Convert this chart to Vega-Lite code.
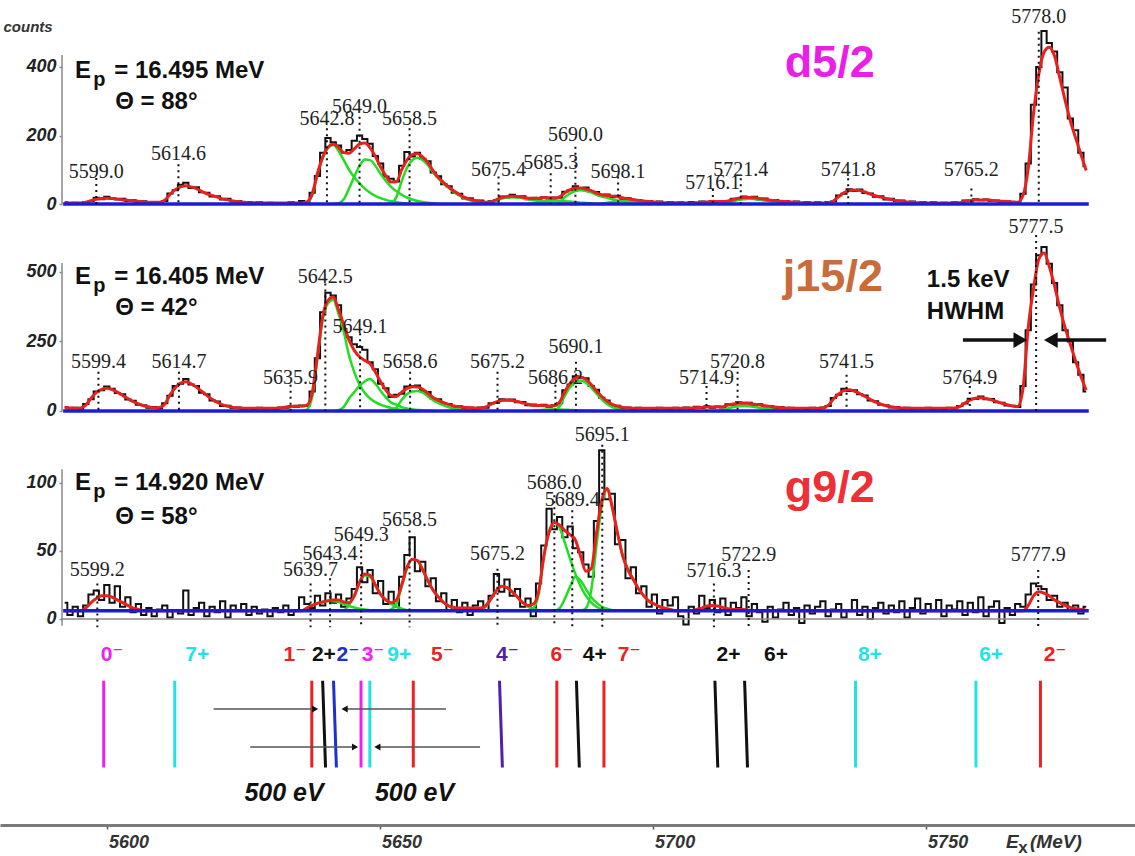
{
"$schema":"https://vega.github.io/schema/vega-lite/v6.json",
"background":"white",
"padding":0,
"spacing":0,
"bounds":"flush",
"config":{"view":{"stroke":null},"axis":{"grid":false},"font":"Liberation Sans"},
"resolve":{"scale":{"x":"independent","y":"independent"}},
"datasets":{
"spec":[
{"e":5593,"b1":5,"r1":4,"b2":14,"r2":12,"b3":12,"r3":6},
{"e":5594,"b1":2,"r1":3,"b2":9,"r2":11,"b3":3,"r3":6},
{"e":5595,"b1":4,"r1":3,"b2":12,"r2":10,"b3":9,"r3":6},
{"e":5596,"b1":1,"r1":3,"b2":8,"r2":11,"b3":2,"r3":6},
{"e":5597,"b1":6,"r1":5,"b2":25,"r2":21,"b3":10,"r3":8},
{"e":5598,"b1":8,"r1":10,"b2":42,"r2":46,"b3":18,"r3":12},
{"e":5599,"b1":18,"r1":14,"b2":70,"r2":66,"b3":21,"r3":15},
{"e":5600,"b1":14,"r1":16,"b2":75,"r2":78,"b3":14,"r3":17},
{"e":5601,"b1":21,"r1":17,"b2":88,"r2":82,"b3":25,"r3":17},
{"e":5602,"b1":17,"r1":16,"b2":80,"r2":77,"b3":12,"r3":16},
{"e":5603,"b1":13,"r1":15,"b2":65,"r2":68,"b3":24,"r3":14},
{"e":5604,"b1":15,"r1":12,"b2":60,"r2":56,"b3":9,"r3":12},
{"e":5605,"b1":9,"r1":11,"b2":41,"r2":45,"b3":16,"r3":10},
{"e":5606,"b1":11,"r1":9,"b2":37,"r2":34,"b3":5,"r3":8},
{"e":5607,"b1":6,"r1":8,"b2":22,"r2":26,"b3":11,"r3":7},
{"e":5608,"b1":8,"r1":6,"b2":21,"r2":19,"b3":3,"r3":6},
{"e":5609,"b1":3,"r1":5,"b2":12,"r2":15,"b3":8,"r3":6},
{"e":5610,"b1":6,"r1":5,"b2":14,"r2":12,"b3":2,"r3":6},
{"e":5611,"b1":4,"r1":5,"b2":9,"r2":13,"b3":7,"r3":6},
{"e":5612,"b1":9,"r1":11,"b2":28,"r2":24,"b3":10,"r3":6},
{"e":5613,"b1":31,"r1":28,"b2":55,"r2":58,"b3":1,"r3":6},
{"e":5614,"b1":40,"r1":42,"b2":90,"r2":84,"b3":6,"r3":6},
{"e":5615,"b1":56,"r1":50,"b2":98,"r2":100,"b3":4,"r3":6},
{"e":5616,"b1":62,"r1":53,"b2":115,"r2":105,"b3":21,"r3":6},
{"e":5617,"b1":47,"r1":50,"b2":95,"r2":98,"b3":3,"r3":6},
{"e":5618,"b1":49,"r1":45,"b2":90,"r2":86,"b3":8,"r3":6},
{"e":5619,"b1":34,"r1":37,"b2":66,"r2":71,"b3":12,"r3":6},
{"e":5620,"b1":33,"r1":30,"b2":60,"r2":56,"b3":2,"r3":6},
{"e":5621,"b1":22,"r1":25,"b2":38,"r2":42,"b3":9,"r3":6},
{"e":5622,"b1":23,"r1":20,"b2":34,"r2":31,"b3":5,"r3":6},
{"e":5623,"b1":13,"r1":15,"b2":18,"r2":22,"b3":13,"r3":6},
{"e":5624,"b1":15,"r1":12,"b2":19,"r2":17,"b3":1,"r3":6},
{"e":5625,"b1":7,"r1":9,"b2":11,"r2":13,"b3":10,"r3":6},
{"e":5626,"b1":9,"r1":7,"b2":13,"r2":11,"b3":6,"r3":6},
{"e":5627,"b1":4,"r1":5,"b2":8,"r2":10,"b3":11,"r3":6},
{"e":5628,"b1":6,"r1":4,"b2":11,"r2":10,"b3":3,"r3":6},
{"e":5629,"b1":2,"r1":4,"b2":7,"r2":10,"b3":9,"r3":6},
{"e":5630,"b1":5,"r1":3,"b2":12,"r2":10,"b3":4,"r3":6},
{"e":5631,"b1":1,"r1":3,"b2":9,"r2":10,"b3":7,"r3":6},
{"e":5632,"b1":4,"r1":3,"b2":11,"r2":10,"b3":2,"r3":6},
{"e":5633,"b1":2,"r1":3,"b2":8,"r2":10,"b3":8,"r3":6},
{"e":5634,"b1":3,"r1":3,"b2":13,"r2":11,"b3":5,"r3":6},
{"e":5635,"b1":1,"r1":3,"b2":12,"r2":14,"b3":10,"r3":6},
{"e":5636,"b1":5,"r1":3,"b2":18,"r2":16,"b3":3,"r3":6},
{"e":5637,"b1":2,"r1":3,"b2":15,"r2":18,"b3":6,"r3":6},
{"e":5638,"b1":9,"r1":3,"b2":20,"r2":17,"b3":16,"r3":6},
{"e":5639,"b1":4,"r1":6,"b2":18,"r2":21,"b3":11,"r3":8},
{"e":5640,"b1":33,"r1":29,"b2":70,"r2":64,"b3":8,"r3":10},
{"e":5641,"b1":82,"r1":89,"b2":190,"r2":200,"b3":17,"r3":11.5},
{"e":5642,"b1":150,"r1":137,"b2":355,"r2":340,"b3":10,"r3":12.5},
{"e":5643,"b1":193,"r1":166,"b2":425,"r2":398,"b3":19,"r3":13.5},
{"e":5644,"b1":180,"r1":175,"b2":415,"r2":410,"b3":12,"r3":14},
{"e":5645,"b1":171,"r1":165,"b2":380,"r2":365,"b3":18,"r3":14},
{"e":5646,"b1":150,"r1":150,"b2":295,"r2":310,"b3":9,"r3":12.5},
{"e":5647,"b1":158,"r1":148,"b2":265,"r2":255,"b3":15,"r3":12},
{"e":5648,"b1":185,"r1":161,"b2":240,"r2":218,"b3":22,"r3":17},
{"e":5649,"b1":200,"r1":175,"b2":230,"r2":195,"b3":38,"r3":27},
{"e":5650,"b1":190,"r1":178,"b2":220,"r2":182,"b3":27,"r3":33},
{"e":5651,"b1":176,"r1":164,"b2":175,"r2":170,"b3":36,"r3":32},
{"e":5652,"b1":140,"r1":139,"b2":150,"r2":140,"b3":19,"r3":25},
{"e":5653,"b1":118,"r1":108,"b2":98,"r2":105,"b3":28,"r3":18},
{"e":5654,"b1":80,"r1":82,"b2":82,"r2":75,"b3":11,"r3":14},
{"e":5655,"b1":74,"r1":64,"b2":50,"r2":55,"b3":20,"r3":12},
{"e":5656,"b1":66,"r1":65,"b2":58,"r2":52,"b3":9,"r3":14},
{"e":5657,"b1":112,"r1":100,"b2":62,"r2":68,"b3":31,"r3":25},
{"e":5658,"b1":152,"r1":128,"b2":88,"r2":81,"b3":47,"r3":38},
{"e":5659,"b1":139,"r1":144,"b2":90,"r2":87,"b3":60,"r3":44},
{"e":5660,"b1":150,"r1":147,"b2":92,"r2":86,"b3":35,"r3":43},
{"e":5661,"b1":132,"r1":137,"b2":72,"r2":78,"b3":42,"r3":36},
{"e":5662,"b1":125,"r1":120,"b2":68,"r2":63,"b3":24,"r3":28},
{"e":5663,"b1":92,"r1":97,"b2":44,"r2":48,"b3":30,"r3":21},
{"e":5664,"b1":81,"r1":77,"b2":42,"r2":38,"b3":13,"r3":16},
{"e":5665,"b1":58,"r1":62,"b2":27,"r2":30,"b3":19,"r3":12},
{"e":5666,"b1":52,"r1":49,"b2":25,"r2":23,"b3":6,"r3":9.5},
{"e":5667,"b1":33,"r1":37,"b2":15,"r2":18,"b3":14,"r3":8.5},
{"e":5668,"b1":30,"r1":27,"b2":17,"r2":15,"b3":5,"r3":8},
{"e":5669,"b1":16,"r1":19,"b2":11,"r2":13,"b3":12,"r3":8},
{"e":5670,"b1":17,"r1":14,"b2":13,"r2":11,"b3":3,"r3":8},
{"e":5671,"b1":8,"r1":10,"b2":9,"r2":11,"b3":10,"r3":8},
{"e":5672,"b1":10,"r1":7,"b2":13,"r2":11,"b3":13,"r3":8},
{"e":5673,"b1":3,"r1":5,"b2":12,"r2":15,"b3":6,"r3":10},
{"e":5674,"b1":8,"r1":6,"b2":28,"r2":25,"b3":17,"r3":15},
{"e":5675,"b1":11,"r1":13,"b2":30,"r2":33,"b3":33,"r3":21},
{"e":5676,"b1":22,"r1":19,"b2":42,"r2":38,"b3":20,"r3":24},
{"e":5677,"b1":19,"r1":22,"b2":38,"r2":40,"b3":29,"r3":23},
{"e":5678,"b1":27,"r1":23,"b2":41,"r2":38,"b3":17,"r3":20},
{"e":5679,"b1":20,"r1":22,"b2":31,"r2":34,"b3":22,"r3":16},
{"e":5680,"b1":23,"r1":20,"b2":32,"r2":29,"b3":9,"r3":12},
{"e":5681,"b1":14,"r1":17,"b2":21,"r2":24,"b3":15,"r3":10},
{"e":5682,"b1":18,"r1":16,"b2":23,"r2":20,"b3":2,"r3":11},
{"e":5683,"b1":15,"r1":17,"b2":18,"r2":20,"b3":26,"r3":20},
{"e":5684,"b1":20,"r1":18,"b2":22,"r2":19,"b3":54,"r3":46},
{"e":5685,"b1":16,"r1":18,"b2":15,"r2":18,"b3":81,"r3":64},
{"e":5686,"b1":19,"r1":17,"b2":21,"r2":19,"b3":66,"r3":71},
{"e":5687,"b1":18,"r1":21,"b2":28,"r2":32,"b3":75,"r3":69},
{"e":5688,"b1":36,"r1":33,"b2":75,"r2":70,"b3":60,"r3":65},
{"e":5689,"b1":40,"r1":42,"b2":95,"r2":100,"b3":68,"r3":62},
{"e":5690,"b1":52,"r1":47,"b2":125,"r2":118,"b3":52,"r3":58},
{"e":5691,"b1":45,"r1":47,"b2":120,"r2":122,"b3":49,"r3":46},
{"e":5692,"b1":48,"r1":44,"b2":118,"r2":113,"b3":40,"r3":35},
{"e":5693,"b1":36,"r1":39,"b2":90,"r2":95,"b3":31,"r3":37},
{"e":5694,"b1":35,"r1":32,"b2":76,"r2":72,"b3":72,"r3":63},
{"e":5695,"b1":24,"r1":27,"b2":48,"r2":52,"b3":124,"r3":87},
{"e":5696,"b1":28,"r1":25,"b2":38,"r2":35,"b3":88,"r3":96},
{"e":5697,"b1":20,"r1":23,"b2":21,"r2":24,"b3":92,"r3":82},
{"e":5698,"b1":24,"r1":21,"b2":19,"r2":17,"b3":55,"r3":63},
{"e":5699,"b1":15,"r1":18,"b2":11,"r2":13,"b3":58,"r3":46},
{"e":5700,"b1":17,"r1":15,"b2":13,"r2":11,"b3":30,"r3":36},
{"e":5701,"b1":10,"r1":13,"b2":8,"r2":10,"b3":38,"r3":29},
{"e":5702,"b1":12,"r1":10,"b2":12,"r2":10,"b3":19,"r3":22},
{"e":5703,"b1":7,"r1":9,"b2":9,"r2":10,"b3":24,"r3":17},
{"e":5704,"b1":9,"r1":7,"b2":11,"r2":10,"b3":9,"r3":13},
{"e":5705,"b1":4,"r1":6,"b2":7,"r2":10,"b3":18,"r3":11},
{"e":5706,"b1":7,"r1":5,"b2":12,"r2":10,"b3":4,"r3":9},
{"e":5707,"b1":2,"r1":4,"b2":10,"r2":10,"b3":14,"r3":8},
{"e":5708,"b1":6,"r1":4,"b2":8,"r2":10,"b3":10,"r3":7},
{"e":5709,"b1":3,"r1":4,"b2":12,"r2":10,"b3":16,"r3":6},
{"e":5710,"b1":5,"r1":3,"b2":9,"r2":10,"b3":2,"r3":6},
{"e":5711,"b1":1,"r1":3,"b2":13,"r2":10,"b3":-4,"r3":6},
{"e":5712,"b1":6,"r1":3,"b2":8,"r2":11,"b3":9,"r3":6},
{"e":5713,"b1":2,"r1":4,"b2":15,"r2":12,"b3":4,"r3":7},
{"e":5714,"b1":7,"r1":5,"b2":11,"r2":13,"b3":17,"r3":8},
{"e":5715,"b1":4,"r1":6,"b2":17,"r2":14,"b3":8,"r3":9.5},
{"e":5716,"b1":9,"r1":7,"b2":12,"r2":14,"b3":14,"r3":10},
{"e":5717,"b1":5,"r1":7,"b2":16,"r2":14,"b3":5,"r3":9.5},
{"e":5718,"b1":8,"r1":7,"b2":13,"r2":15,"b3":15,"r3":8.5},
{"e":5719,"b1":7,"r1":9,"b2":24,"r2":21,"b3":3,"r3":7.5},
{"e":5720,"b1":15,"r1":13,"b2":22,"r2":25,"b3":12,"r3":7},
{"e":5721,"b1":14,"r1":17,"b2":31,"r2":28,"b3":8,"r3":7},
{"e":5722,"b1":22,"r1":19,"b2":27,"r2":29,"b3":16,"r3":7},
{"e":5723,"b1":17,"r1":19,"b2":30,"r2":27,"b3":2,"r3":6.5},
{"e":5724,"b1":21,"r1":18,"b2":21,"r2":24,"b3":11,"r3":6},
{"e":5725,"b1":13,"r1":16,"b2":24,"r2":22,"b3":5,"r3":6},
{"e":5726,"b1":16,"r1":14,"b2":16,"r2":19,"b3":-2,"r3":6},
{"e":5727,"b1":9,"r1":11,"b2":18,"r2":16,"b3":9,"r3":6},
{"e":5728,"b1":12,"r1":10,"b2":11,"r2":14,"b3":1,"r3":6},
{"e":5729,"b1":6,"r1":8,"b2":14,"r2":12,"b3":7,"r3":6},
{"e":5730,"b1":9,"r1":7,"b2":9,"r2":11,"b3":12,"r3":6},
{"e":5731,"b1":4,"r1":6,"b2":12,"r2":10,"b3":3,"r3":6},
{"e":5732,"b1":7,"r1":5,"b2":8,"r2":10,"b3":8,"r3":6},
{"e":5733,"b1":2,"r1":4,"b2":11,"r2":10,"b3":-3,"r3":6},
{"e":5734,"b1":6,"r1":4,"b2":7,"r2":10,"b3":10,"r3":6},
{"e":5735,"b1":1,"r1":3,"b2":12,"r2":10,"b3":4,"r3":6},
{"e":5736,"b1":5,"r1":3,"b2":9,"r2":10,"b3":9,"r3":6},
{"e":5737,"b1":2,"r1":3,"b2":13,"r2":11,"b3":13,"r3":6},
{"e":5738,"b1":6,"r1":4,"b2":18,"r2":20,"b3":2,"r3":6},
{"e":5739,"b1":7,"r1":9,"b2":47,"r2":43,"b3":7,"r3":6},
{"e":5740,"b1":25,"r1":22,"b2":58,"r2":61,"b3":11,"r3":6},
{"e":5741,"b1":30,"r1":33,"b2":80,"r2":73,"b3":1,"r3":6},
{"e":5742,"b1":43,"r1":39,"b2":72,"r2":76,"b3":6,"r3":6},
{"e":5743,"b1":38,"r1":41,"b2":75,"r2":71,"b3":14,"r3":6},
{"e":5744,"b1":42,"r1":39,"b2":60,"r2":63,"b3":3,"r3":6},
{"e":5745,"b1":32,"r1":35,"b2":56,"r2":52,"b3":9,"r3":6},
{"e":5746,"b1":31,"r1":29,"b2":38,"r2":42,"b3":0,"r3":6},
{"e":5747,"b1":21,"r1":24,"b2":35,"r2":32,"b3":8,"r3":6},
{"e":5748,"b1":23,"r1":20,"b2":22,"r2":25,"b3":12,"r3":6},
{"e":5749,"b1":13,"r1":16,"b2":21,"r2":19,"b3":4,"r3":6},
{"e":5750,"b1":15,"r1":13,"b2":13,"r2":15,"b3":10,"r3":6},
{"e":5751,"b1":8,"r1":10,"b2":14,"r2":12,"b3":5,"r3":6},
{"e":5752,"b1":10,"r1":8,"b2":9,"r2":11,"b3":13,"r3":6},
{"e":5753,"b1":4,"r1":6,"b2":12,"r2":10,"b3":1,"r3":6},
{"e":5754,"b1":7,"r1":5,"b2":8,"r2":10,"b3":8,"r3":6},
{"e":5755,"b1":2,"r1":4,"b2":11,"r2":10,"b3":15,"r3":6},
{"e":5756,"b1":6,"r1":4,"b2":9,"r2":10,"b3":4,"r3":6},
{"e":5757,"b1":1,"r1":3,"b2":12,"r2":10,"b3":11,"r3":6},
{"e":5758,"b1":5,"r1":3,"b2":8,"r2":10,"b3":6,"r3":6},
{"e":5759,"b1":2,"r1":3,"b2":10,"r2":10,"b3":14,"r3":6},
{"e":5760,"b1":4,"r1":3,"b2":7,"r2":10,"b3":2,"r3":6},
{"e":5761,"b1":1,"r1":3,"b2":12,"r2":10,"b3":10,"r3":6},
{"e":5762,"b1":5,"r1":3,"b2":9,"r2":11,"b3":7,"r3":6},
{"e":5763,"b1":3,"r1":4,"b2":18,"r2":16,"b3":13,"r3":6},
{"e":5764,"b1":10,"r1":8,"b2":27,"r2":29,"b3":3,"r3":6},
{"e":5765,"b1":8,"r1":10,"b2":44,"r2":40,"b3":12,"r3":6},
{"e":5766,"b1":14,"r1":12,"b2":43,"r2":46,"b3":5,"r3":6},
{"e":5767,"b1":11,"r1":12,"b2":52,"r2":48,"b3":16,"r3":6},
{"e":5768,"b1":13,"r1":12,"b2":42,"r2":45,"b3":2,"r3":6},
{"e":5769,"b1":9,"r1":11,"b2":43,"r2":40,"b3":9,"r3":6},
{"e":5770,"b1":10,"r1":9,"b2":31,"r2":34,"b3":13,"r3":6},
{"e":5771,"b1":6,"r1":8,"b2":30,"r2":28,"b3":-3,"r3":6},
{"e":5772,"b1":8,"r1":7,"b2":20,"r2":23,"b3":8,"r3":6},
{"e":5773,"b1":4,"r1":6,"b2":19,"r2":18,"b3":3,"r3":6},
{"e":5774,"b1":6,"r1":5,"b2":14,"r2":16,"b3":11,"r3":6},
{"e":5775,"b1":30,"r1":25,"b2":90,"r2":80,"b3":9,"r3":6},
{"e":5776,"b1":118,"r1":104,"b2":290,"r2":300,"b3":18,"r3":10},
{"e":5777,"b1":290,"r1":264,"b2":455,"r2":440,"b3":26,"r3":17},
{"e":5778,"b1":400,"r1":378,"b2":560,"r2":545,"b3":24,"r3":20},
{"e":5779,"b1":505,"r1":443,"b2":590,"r2":568,"b3":22,"r3":19},
{"e":5780,"b1":470,"r1":458,"b2":530,"r2":520,"b3":14,"r3":17},
{"e":5781,"b1":445,"r1":432,"b2":460,"r2":450,"b3":17,"r3":14},
{"e":5782,"b1":385,"r1":368,"b2":380,"r2":370,"b3":9,"r3":12},
{"e":5783,"b1":340,"r1":303,"b2":290,"r2":300,"b3":12,"r3":10},
{"e":5784,"b1":250,"r1":243,"b2":250,"r2":240,"b3":6,"r3":8.5},
{"e":5785,"b1":215,"r1":193,"b2":175,"r2":180,"b3":10,"r3":7.5},
{"e":5786,"b1":150,"r1":145,"b2":130,"r2":125,"b3":4,"r3":7},
{"e":5787,"b1":110,"r1":98,"b2":70,"r2":75,"b3":9,"r3":6.5}
],
"comp":[
{"p":1,"k":"a","e":5638,"g":0},{"p":1,"k":"a","e":5639,"g":3},{"p":1,"k":"a","e":5640,"g":26},{"p":1,"k":"a","e":5641,"g":86},{"p":1,"k":"a","e":5642,"g":134},{"p":1,"k":"a","e":5643,"g":163},{"p":1,"k":"a","e":5644,"g":172},{"p":1,"k":"a","e":5645,"g":155},{"p":1,"k":"a","e":5646,"g":128},{"p":1,"k":"a","e":5647,"g":100},{"p":1,"k":"a","e":5648,"g":78},{"p":1,"k":"a","e":5649,"g":60},{"p":1,"k":"a","e":5650,"g":45},{"p":1,"k":"a","e":5651,"g":33},{"p":1,"k":"a","e":5652,"g":24},{"p":1,"k":"a","e":5653,"g":17},{"p":1,"k":"a","e":5654,"g":12},{"p":1,"k":"a","e":5655,"g":8},{"p":1,"k":"a","e":5656,"g":5},{"p":1,"k":"a","e":5657,"g":3},{"p":1,"k":"a","e":5658,"g":1.5},{"p":1,"k":"a","e":5659,"g":0},
{"p":1,"k":"b","e":5644,"g":0},{"p":1,"k":"b","e":5645,"g":2},{"p":1,"k":"b","e":5646,"g":14},{"p":1,"k":"b","e":5647,"g":45},{"p":1,"k":"b","e":5648,"g":80},{"p":1,"k":"b","e":5649,"g":112},{"p":1,"k":"b","e":5650,"g":130},{"p":1,"k":"b","e":5651,"g":128},{"p":1,"k":"b","e":5652,"g":112},{"p":1,"k":"b","e":5653,"g":88},{"p":1,"k":"b","e":5654,"g":67},{"p":1,"k":"b","e":5655,"g":50},{"p":1,"k":"b","e":5656,"g":37},{"p":1,"k":"b","e":5657,"g":27},{"p":1,"k":"b","e":5658,"g":19},{"p":1,"k":"b","e":5659,"g":13},{"p":1,"k":"b","e":5660,"g":9},{"p":1,"k":"b","e":5661,"g":6},{"p":1,"k":"b","e":5662,"g":4},{"p":1,"k":"b","e":5663,"g":2},{"p":1,"k":"b","e":5664,"g":0},
{"p":1,"k":"c","e":5654,"g":0},{"p":1,"k":"c","e":5655,"g":3},{"p":1,"k":"c","e":5656,"g":20},{"p":1,"k":"c","e":5657,"g":67},{"p":1,"k":"c","e":5658,"g":105},{"p":1,"k":"c","e":5659,"g":128},{"p":1,"k":"c","e":5660,"g":135},{"p":1,"k":"c","e":5661,"g":128},{"p":1,"k":"c","e":5662,"g":113},{"p":1,"k":"c","e":5663,"g":92},{"p":1,"k":"c","e":5664,"g":74},{"p":1,"k":"c","e":5665,"g":59},{"p":1,"k":"c","e":5666,"g":46},{"p":1,"k":"c","e":5667,"g":34},{"p":1,"k":"c","e":5668,"g":24},{"p":1,"k":"c","e":5669,"g":16},{"p":1,"k":"c","e":5670,"g":11},{"p":1,"k":"c","e":5671,"g":7},{"p":1,"k":"c","e":5672,"g":4},{"p":1,"k":"c","e":5673,"g":2},{"p":1,"k":"c","e":5674,"g":0},
{"p":1,"k":"h","e":5673,"g":0},{"p":1,"k":"h","e":5674,"g":3},{"p":1,"k":"h","e":5675,"g":10},{"p":1,"k":"h","e":5676,"g":15.6},{"p":1,"k":"h","e":5677,"g":19},{"p":1,"k":"h","e":5678,"g":20},{"p":1,"k":"h","e":5679,"g":19},{"p":1,"k":"h","e":5680,"g":17},{"p":1,"k":"h","e":5681,"g":13.6},{"p":1,"k":"h","e":5682,"g":11},{"p":1,"k":"h","e":5683,"g":8.8},{"p":1,"k":"h","e":5684,"g":6.8},{"p":1,"k":"h","e":5685,"g":5},{"p":1,"k":"h","e":5686,"g":3.6},{"p":1,"k":"h","e":5687,"g":2.4},{"p":1,"k":"h","e":5688,"g":1.6},{"p":1,"k":"h","e":5689,"g":1},{"p":1,"k":"h","e":5690,"g":0},
{"p":1,"k":"f","e":5681,"g":0},{"p":1,"k":"f","e":5682,"g":1.5},{"p":1,"k":"f","e":5683,"g":5},{"p":1,"k":"f","e":5684,"g":8},{"p":1,"k":"f","e":5685,"g":9.5},{"p":1,"k":"f","e":5686,"g":10},{"p":1,"k":"f","e":5687,"g":9.5},{"p":1,"k":"f","e":5688,"g":8},{"p":1,"k":"f","e":5689,"g":7},{"p":1,"k":"f","e":5690,"g":5.5},{"p":1,"k":"f","e":5691,"g":4},{"p":1,"k":"f","e":5692,"g":3},{"p":1,"k":"f","e":5693,"g":2},{"p":1,"k":"f","e":5694,"g":1},{"p":1,"k":"f","e":5695,"g":0},
{"p":1,"k":"d","e":5686,"g":0},{"p":1,"k":"d","e":5687,"g":6},{"p":1,"k":"d","e":5688,"g":20},{"p":1,"k":"d","e":5689,"g":31},{"p":1,"k":"d","e":5690,"g":38},{"p":1,"k":"d","e":5691,"g":40},{"p":1,"k":"d","e":5692,"g":38},{"p":1,"k":"d","e":5693,"g":34},{"p":1,"k":"d","e":5694,"g":27},{"p":1,"k":"d","e":5695,"g":22},{"p":1,"k":"d","e":5696,"g":18},{"p":1,"k":"d","e":5697,"g":14},{"p":1,"k":"d","e":5698,"g":10},{"p":1,"k":"d","e":5699,"g":7},{"p":1,"k":"d","e":5700,"g":5},{"p":1,"k":"d","e":5701,"g":3},{"p":1,"k":"d","e":5702,"g":2},{"p":1,"k":"d","e":5703,"g":1},{"p":1,"k":"d","e":5704,"g":0},
{"p":1,"k":"e","e":5694,"g":0},{"p":1,"k":"e","e":5695,"g":1},{"p":1,"k":"e","e":5696,"g":4},{"p":1,"k":"e","e":5697,"g":6},{"p":1,"k":"e","e":5698,"g":8},{"p":1,"k":"e","e":5699,"g":8},{"p":1,"k":"e","e":5700,"g":8},{"p":1,"k":"e","e":5701,"g":7},{"p":1,"k":"e","e":5702,"g":5},{"p":1,"k":"e","e":5703,"g":4},{"p":1,"k":"e","e":5704,"g":3},{"p":1,"k":"e","e":5705,"g":2},{"p":1,"k":"e","e":5706,"g":1},{"p":1,"k":"e","e":5707,"g":0},
{"p":1,"k":"g","e":5718,"g":0},{"p":1,"k":"g","e":5719,"g":2},{"p":1,"k":"g","e":5720,"g":7.5},{"p":1,"k":"g","e":5721,"g":12},{"p":1,"k":"g","e":5722,"g":14},{"p":1,"k":"g","e":5723,"g":15},{"p":1,"k":"g","e":5724,"g":14},{"p":1,"k":"g","e":5725,"g":12.6},{"p":1,"k":"g","e":5726,"g":10},{"p":1,"k":"g","e":5727,"g":8},{"p":1,"k":"g","e":5728,"g":6.6},{"p":1,"k":"g","e":5729,"g":5},{"p":1,"k":"g","e":5730,"g":3.8},{"p":1,"k":"g","e":5731,"g":2.7},{"p":1,"k":"g","e":5732,"g":1.8},{"p":1,"k":"g","e":5733,"g":1},{"p":1,"k":"g","e":5734,"g":0},
{"p":2,"k":"a","e":5638,"g":0},{"p":2,"k":"a","e":5639,"g":5},{"p":2,"k":"a","e":5640,"g":50},{"p":2,"k":"a","e":5641,"g":190},{"p":2,"k":"a","e":5642,"g":330},{"p":2,"k":"a","e":5643,"g":388},{"p":2,"k":"a","e":5644,"g":400},{"p":2,"k":"a","e":5645,"g":350},{"p":2,"k":"a","e":5646,"g":285},{"p":2,"k":"a","e":5647,"g":200},{"p":2,"k":"a","e":5648,"g":140},{"p":2,"k":"a","e":5649,"g":95},{"p":2,"k":"a","e":5650,"g":65},{"p":2,"k":"a","e":5651,"g":45},{"p":2,"k":"a","e":5652,"g":32},{"p":2,"k":"a","e":5653,"g":23},{"p":2,"k":"a","e":5654,"g":16},{"p":2,"k":"a","e":5655,"g":11},{"p":2,"k":"a","e":5656,"g":7},{"p":2,"k":"a","e":5657,"g":4},{"p":2,"k":"a","e":5658,"g":2},{"p":2,"k":"a","e":5659,"g":1},{"p":2,"k":"a","e":5660,"g":0},
{"p":2,"k":"b","e":5644,"g":0},{"p":2,"k":"b","e":5645,"g":3},{"p":2,"k":"b","e":5646,"g":15},{"p":2,"k":"b","e":5647,"g":45},{"p":2,"k":"b","e":5648,"g":68},{"p":2,"k":"b","e":5649,"g":90},{"p":2,"k":"b","e":5650,"g":107},{"p":2,"k":"b","e":5651,"g":115},{"p":2,"k":"b","e":5652,"g":98},{"p":2,"k":"b","e":5653,"g":72},{"p":2,"k":"b","e":5654,"g":49},{"p":2,"k":"b","e":5655,"g":30},{"p":2,"k":"b","e":5656,"g":23},{"p":2,"k":"b","e":5657,"g":14},{"p":2,"k":"b","e":5658,"g":9},{"p":2,"k":"b","e":5659,"g":6},{"p":2,"k":"b","e":5660,"g":4},{"p":2,"k":"b","e":5661,"g":2},{"p":2,"k":"b","e":5662,"g":1},{"p":2,"k":"b","e":5663,"g":0},
{"p":2,"k":"c","e":5654,"g":0},{"p":2,"k":"c","e":5655,"g":2},{"p":2,"k":"c","e":5656,"g":12},{"p":2,"k":"c","e":5657,"g":40},{"p":2,"k":"c","e":5658,"g":60},{"p":2,"k":"c","e":5659,"g":70},{"p":2,"k":"c","e":5660,"g":72},{"p":2,"k":"c","e":5661,"g":66},{"p":2,"k":"c","e":5662,"g":52},{"p":2,"k":"c","e":5663,"g":38},{"p":2,"k":"c","e":5664,"g":28},{"p":2,"k":"c","e":5665,"g":20},{"p":2,"k":"c","e":5666,"g":13},{"p":2,"k":"c","e":5667,"g":8},{"p":2,"k":"c","e":5668,"g":5},{"p":2,"k":"c","e":5669,"g":3},{"p":2,"k":"c","e":5670,"g":1},{"p":2,"k":"c","e":5671,"g":0},
{"p":2,"k":"f","e":5682,"g":0},{"p":2,"k":"f","e":5683,"g":3},{"p":2,"k":"f","e":5684,"g":4.7},{"p":2,"k":"f","e":5685,"g":5.7},{"p":2,"k":"f","e":5686,"g":6},{"p":2,"k":"f","e":5687,"g":5.6},{"p":2,"k":"f","e":5688,"g":4.8},{"p":2,"k":"f","e":5689,"g":3.8},{"p":2,"k":"f","e":5690,"g":3},{"p":2,"k":"f","e":5691,"g":2},{"p":2,"k":"f","e":5692,"g":1.2},{"p":2,"k":"f","e":5693,"g":0.5},{"p":2,"k":"f","e":5694,"g":0},
{"p":2,"k":"d","e":5686,"g":0},{"p":2,"k":"d","e":5687,"g":16},{"p":2,"k":"d","e":5688,"g":55},{"p":2,"k":"d","e":5689,"g":86},{"p":2,"k":"d","e":5690,"g":104},{"p":2,"k":"d","e":5691,"g":110},{"p":2,"k":"d","e":5692,"g":102},{"p":2,"k":"d","e":5693,"g":84},{"p":2,"k":"d","e":5694,"g":62},{"p":2,"k":"d","e":5695,"g":42},{"p":2,"k":"d","e":5696,"g":25},{"p":2,"k":"d","e":5697,"g":14},{"p":2,"k":"d","e":5698,"g":7},{"p":2,"k":"d","e":5699,"g":3},{"p":2,"k":"d","e":5700,"g":1},{"p":2,"k":"d","e":5701,"g":0},
{"p":2,"k":"g","e":5716,"g":0},{"p":2,"k":"g","e":5717,"g":0.4},{"p":2,"k":"g","e":5718,"g":2.7},{"p":2,"k":"g","e":5719,"g":9},{"p":2,"k":"g","e":5720,"g":14},{"p":2,"k":"g","e":5721,"g":17},{"p":2,"k":"g","e":5722,"g":18},{"p":2,"k":"g","e":5723,"g":16.7},{"p":2,"k":"g","e":5724,"g":14.4},{"p":2,"k":"g","e":5725,"g":11.5},{"p":2,"k":"g","e":5726,"g":8.6},{"p":2,"k":"g","e":5727,"g":6},{"p":2,"k":"g","e":5728,"g":4},{"p":2,"k":"g","e":5729,"g":2.3},{"p":2,"k":"g","e":5730,"g":1.3},{"p":2,"k":"g","e":5731,"g":0},
{"p":3,"k":"a","e":5638,"g":6},{"p":3,"k":"a","e":5639,"g":8},{"p":3,"k":"a","e":5640,"g":10},{"p":3,"k":"a","e":5641,"g":11.5},{"p":3,"k":"a","e":5642,"g":12.5},{"p":3,"k":"a","e":5643,"g":13},{"p":3,"k":"a","e":5644,"g":13},{"p":3,"k":"a","e":5645,"g":12.5},{"p":3,"k":"a","e":5646,"g":11},{"p":3,"k":"a","e":5647,"g":9.5},{"p":3,"k":"a","e":5648,"g":8.5},{"p":3,"k":"a","e":5649,"g":7.5},{"p":3,"k":"a","e":5650,"g":7},{"p":3,"k":"a","e":5651,"g":6.5},{"p":3,"k":"a","e":5652,"g":6},
{"p":3,"k":"b","e":5645,"g":6},{"p":3,"k":"b","e":5646,"g":6.5},{"p":3,"k":"b","e":5647,"g":10},{"p":3,"k":"b","e":5648,"g":17},{"p":3,"k":"b","e":5649,"g":27},{"p":3,"k":"b","e":5650,"g":32},{"p":3,"k":"b","e":5651,"g":31},{"p":3,"k":"b","e":5652,"g":25},{"p":3,"k":"b","e":5653,"g":18},{"p":3,"k":"b","e":5654,"g":14},{"p":3,"k":"b","e":5655,"g":11},{"p":3,"k":"b","e":5656,"g":9},{"p":3,"k":"b","e":5657,"g":7.5},{"p":3,"k":"b","e":5658,"g":6.5},{"p":3,"k":"b","e":5659,"g":6},
{"p":3,"k":"c","e":5654,"g":6},{"p":3,"k":"c","e":5655,"g":7},{"p":3,"k":"c","e":5656,"g":11},{"p":3,"k":"c","e":5657,"g":24},{"p":3,"k":"c","e":5658,"g":37},{"p":3,"k":"c","e":5659,"g":44},{"p":3,"k":"c","e":5660,"g":43},{"p":3,"k":"c","e":5661,"g":36},{"p":3,"k":"c","e":5662,"g":28},{"p":3,"k":"c","e":5663,"g":21},{"p":3,"k":"c","e":5664,"g":16},{"p":3,"k":"c","e":5665,"g":12},{"p":3,"k":"c","e":5666,"g":9.5},{"p":3,"k":"c","e":5667,"g":8},{"p":3,"k":"c","e":5668,"g":7},{"p":3,"k":"c","e":5669,"g":6.5},{"p":3,"k":"c","e":5670,"g":6},
{"p":3,"k":"d","e":5671,"g":6},{"p":3,"k":"d","e":5672,"g":6.5},{"p":3,"k":"d","e":5673,"g":9},{"p":3,"k":"d","e":5674,"g":15},{"p":3,"k":"d","e":5675,"g":21},{"p":3,"k":"d","e":5676,"g":24},{"p":3,"k":"d","e":5677,"g":23},{"p":3,"k":"d","e":5678,"g":20},{"p":3,"k":"d","e":5679,"g":16},{"p":3,"k":"d","e":5680,"g":12},{"p":3,"k":"d","e":5681,"g":9},{"p":3,"k":"d","e":5682,"g":7.5},{"p":3,"k":"d","e":5683,"g":6.5},{"p":3,"k":"d","e":5684,"g":6},
{"p":3,"k":"e","e":5681,"g":6},{"p":3,"k":"e","e":5682,"g":8},{"p":3,"k":"e","e":5683,"g":18},{"p":3,"k":"e","e":5684,"g":46},{"p":3,"k":"e","e":5685,"g":64},{"p":3,"k":"e","e":5686,"g":71},{"p":3,"k":"e","e":5687,"g":67},{"p":3,"k":"e","e":5688,"g":56},{"p":3,"k":"e","e":5689,"g":44},{"p":3,"k":"e","e":5690,"g":33},{"p":3,"k":"e","e":5691,"g":24},{"p":3,"k":"e","e":5692,"g":17},{"p":3,"k":"e","e":5693,"g":12},{"p":3,"k":"e","e":5694,"g":9},{"p":3,"k":"e","e":5695,"g":7},{"p":3,"k":"e","e":5696,"g":6},
{"p":3,"k":"f","e":5686,"g":6},{"p":3,"k":"f","e":5687,"g":8},{"p":3,"k":"f","e":5688,"g":15},{"p":3,"k":"f","e":5689,"g":24},{"p":3,"k":"f","e":5690,"g":31},{"p":3,"k":"f","e":5691,"g":28},{"p":3,"k":"f","e":5692,"g":22},{"p":3,"k":"f","e":5693,"g":16},{"p":3,"k":"f","e":5694,"g":12},{"p":3,"k":"f","e":5695,"g":9},{"p":3,"k":"f","e":5696,"g":7.5},{"p":3,"k":"f","e":5697,"g":6.5},{"p":3,"k":"f","e":5698,"g":6},
{"p":3,"k":"g","e":5691,"g":6},{"p":3,"k":"g","e":5692,"g":8},{"p":3,"k":"g","e":5693,"g":21},{"p":3,"k":"g","e":5694,"g":54},{"p":3,"k":"g","e":5695,"g":83},{"p":3,"k":"g","e":5696,"g":95},{"p":3,"k":"g","e":5697,"g":82},{"p":3,"k":"g","e":5698,"g":63},{"p":3,"k":"g","e":5699,"g":46},{"p":3,"k":"g","e":5700,"g":36},{"p":3,"k":"g","e":5701,"g":29},{"p":3,"k":"g","e":5702,"g":22},{"p":3,"k":"g","e":5703,"g":17},{"p":3,"k":"g","e":5704,"g":13},{"p":3,"k":"g","e":5705,"g":11},{"p":3,"k":"g","e":5706,"g":9},{"p":3,"k":"g","e":5707,"g":8},{"p":3,"k":"g","e":5708,"g":7},{"p":3,"k":"g","e":5709,"g":6}
],
"peaks":[
{"p":1,"e":5599.0,"t":"5599.0","ly":94,"dt":76},
{"p":1,"e":5614.6,"t":"5614.6","ly":146,"dt":116},
{"p":1,"e":5642.8,"t":"5642.8","ly":248,"dt":221},
{"p":1,"e":5649.0,"t":"5649.0","ly":282,"dt":255},
{"p":1,"e":5658.5,"t":"5658.5","ly":248,"dt":221},
{"p":1,"e":5675.4,"t":"5675.4","ly":99,"dt":80},
{"p":1,"e":5685.3,"t":"5685.3","ly":119,"dt":90},
{"p":1,"e":5690.0,"t":"5690.0","ly":201,"dt":167},
{"p":1,"e":5698.1,"t":"5698.1","ly":94,"dt":80},
{"p":1,"e":5716.1,"t":"5716.1","ly":60,"dt":44},
{"p":1,"e":5721.4,"t":"5721.4","ly":99,"dt":75},
{"p":1,"e":5741.8,"t":"5741.8","ly":99,"dt":75},
{"p":1,"e":5765.2,"t":"5765.2","ly":99,"dt":45},
{"p":1,"e":5778.0,"t":"5778.0","ly":547,"dt":503},
{"p":2,"e":5599.4,"t":"5599.4","ly":177,"dt":141},
{"p":2,"e":5614.7,"t":"5614.7","ly":177,"dt":141},
{"p":2,"e":5635.9,"t":"5635.9","ly":118,"dt":94},
{"p":2,"e":5642.5,"t":"5642.5","ly":483,"dt":459},
{"p":2,"e":5649.1,"t":"5649.1","ly":303,"dt":280},
{"p":2,"e":5658.6,"t":"5658.6","ly":177,"dt":141},
{"p":2,"e":5675.2,"t":"5675.2","ly":177,"dt":141},
{"p":2,"e":5686.2,"t":"5686.2","ly":118,"dt":94},
{"p":2,"e":5690.1,"t":"5690.1","ly":231,"dt":177},
{"p":2,"e":5714.9,"t":"5714.9","ly":118,"dt":90},
{"p":2,"e":5720.8,"t":"5720.8","ly":177,"dt":141},
{"p":2,"e":5741.5,"t":"5741.5","ly":177,"dt":130},
{"p":2,"e":5764.9,"t":"5764.9","ly":118,"dt":90},
{"p":2,"e":5777.5,"t":"5777.5","ly":663,"dt":633},
{"p":3,"e":5599.2,"t":"5599.2","ly":36,"dt":26},
{"p":3,"e":5639.7,"t":"5639.7","ly":36,"dt":26},
{"p":3,"e":5643.4,"t":"5643.4","ly":48,"dt":30},
{"p":3,"e":5649.3,"t":"5649.3","ly":62,"dt":55},
{"p":3,"e":5658.5,"t":"5658.5","ly":73,"dt":65},
{"p":3,"e":5675.2,"t":"5675.2","ly":48,"dt":37},
{"p":3,"e":5686.0,"t":"5686.0","ly":100,"dt":91},
{"p":3,"e":5689.4,"t":"5689.4","ly":87.5,"dt":80},
{"p":3,"e":5695.1,"t":"5695.1","ly":135,"dt":128},
{"p":3,"e":5716.3,"t":"5716.3","ly":35,"dt":26},
{"p":3,"e":5722.9,"t":"5722.9","ly":47,"dt":36},
{"p":3,"e":5777.9,"t":"5777.9","ly":47,"dt":36}
],
"ann":[
{"p":1,"k":"ep","e":5594.95,"y":388,"t":"E"},
{"p":1,"k":"sub","e":5598.4,"y":388,"t":"p"},
{"p":1,"k":"ep","e":5602.4,"y":388,"t":"= 16.495 MeV"},
{"p":1,"k":"ep","e":5602.6,"y":298,"t":"Θ = 88°"},
{"p":1,"k":"sh","e":5738.3,"y":411,"t":"d5/2"},
{"p":2,"k":"ep","e":5594.95,"y":483,"t":"E"},
{"p":2,"k":"sub","e":5598.4,"y":483,"t":"p"},
{"p":2,"k":"ep","e":5602.4,"y":483,"t":"= 16.405 MeV"},
{"p":2,"k":"ep","e":5602.6,"y":370,"t":"Θ = 42°"},
{"p":2,"k":"sh","e":5738.9,"y":483,"t":"j15/2"},
{"p":2,"k":"ep","e":5756.75,"y":471,"t":"1.5 keV"},
{"p":2,"k":"ep","e":5756.75,"y":357,"t":"HWHM"},
{"p":3,"k":"ep","e":5594.95,"y":99.8,"t":"E"},
{"p":3,"k":"sub","e":5598.4,"y":99.8,"t":"p"},
{"p":3,"k":"ep","e":5602.4,"y":99.8,"t":"= 14.920 MeV"},
{"p":3,"k":"ep","e":5602.6,"y":75.2,"t":"Θ = 58°"},
{"p":3,"k":"sh","e":5738.3,"y":96,"t":"g9/2"}
],
"harr":[
{"e1":5763.6,"e2":5774.5,"y":255,"d":"r"},
{"e1":5790.8,"e2":5780.3,"y":255,"d":"l"}
],
"levels":[
{"lab":"0⁻","c":"m","xt":5599.47,"xb":5599.47,"lx":5601.0},
{"lab":"7+","c":"c","xt":5612.48,"xb":5612.48,"lx":5616.6},
{"lab":"1⁻","c":"r","xt":5637.58,"xb":5637.58,"lx":5634.5},
{"lab":"2+","c":"k","xt":5639.57,"xb":5640.1,"lx":5639.8},
{"lab":"2⁻","c":"b","xt":5641.56,"xb":5642.09,"lx":5644.2},
{"lab":"3⁻","c":"m","xt":5646.6,"xb":5646.6,"lx":5648.8},
{"lab":"9+","c":"c","xt":5648.21,"xb":5648.21,"lx":5653.6},
{"lab":"5⁻","c":"r","xt":5656.17,"xb":5656.17,"lx":5661.5},
{"lab":"4⁻","c":"v","xt":5671.96,"xb":5672.49,"lx":5673.4},
{"lab":"6⁻","c":"r","xt":5682.46,"xb":5682.46,"lx":5683.4},
{"lab":"4+","c":"k","xt":5686.05,"xb":5686.58,"lx":5689.4},
{"lab":"7⁻","c":"r","xt":5691.09,"xb":5691.09,"lx":5695.7},
{"lab":"2+","c":"k","xt":5711.41,"xb":5711.94,"lx":5713.9},
{"lab":"6+","c":"k","xt":5716.85,"xb":5717.38,"lx":5722.6},
{"lab":"8+","c":"c","xt":5737.16,"xb":5737.16,"lx":5739.8},
{"lab":"6+","c":"c","xt":5759.22,"xb":5759.22,"lx":5762.0},
{"lab":"2⁻","c":"r","xt":5771.03,"xb":5771.03,"lx":5773.7}
],
"larrows":[
{"x1":5619.6,"x2":5638.2,"ay":5.95,"d":"r"},
{"x1":5662.15,"x2":5643.6,"ay":5.95,"d":"l"},
{"x1":5626.3,"x2":5645.5,"ay":4.0,"d":"r"},
{"x1":5668.4,"x2":5649.6,"ay":4.0,"d":"l"}
],
"ev":[
{"x":5632.5,"t":"500 eV"},
{"x":5656.4,"t":"500 eV"}
],
"xtitle":[
{"x":5764.73,"k":"n","t":"E"},
{"x":5766.95,"k":"s","t":"x"},
{"x":5769.12,"k":"n","t":"(MeV)"}
]
},
"vconcat":[
{
"width":1135,"height":215,
"layer":[
{"data":{"name":"spec"},"mark":{"type":"line","interpolate":"step","color":"#111111","strokeWidth":2},
 "encoding":{
  "x":{"field":"e","type":"quantitative","scale":{"domain":[5580.71,5796.28],"nice":false,"zero":false},"axis":null},
  "y":{"field":"b1","type":"quantitative","scale":{"domain":[-32.1,595.6],"nice":false,"zero":false},
   "axis":{"orient":"left","offset":-62,"values":[0,200,400],"domain":false,"ticks":true,"tickSize":3,"tickColor":"#888888","tickWidth":1.5,"labelFont":"Liberation Sans","labelFontStyle":"italic","labelFontWeight":"bold","labelFontSize":18,"labelColor":"#222222","labelPadding":3,
    "title":"counts","titleAngle":0,"titleX":-59,"titleY":26,"titleAlign":"left","titleBaseline":"middle","titleFont":"Liberation Sans","titleFontStyle":"italic","titleFontWeight":"bold","titleFontSize":15,"titleColor":"#333333"}}}},
{"data":{"name":"comp"},"transform":[{"filter":"datum.p==1"}],"mark":{"type":"line","interpolate":"monotone","color":"#22dd22","strokeWidth":2.5},
 "encoding":{"x":{"field":"e","type":"quantitative"},"y":{"field":"g","type":"quantitative"},"detail":{"field":"k","type":"nominal"}}},
{"data":{"name":"spec"},"mark":{"type":"line","interpolate":"monotone","color":"#e8211d","strokeWidth":3},
 "encoding":{"x":{"field":"e","type":"quantitative"},"y":{"field":"r1","type":"quantitative"}}},
{"data":{"values":[{}]},"mark":{"type":"rule","color":"#1c1cd8","strokeWidth":3.5},
 "encoding":{"x":{"datum":5592.7,"type":"quantitative"},"x2":{"datum":5787.5},"y":{"datum":0,"type":"quantitative"}}},
{"data":{"values":[{}]},"mark":{"type":"rule","color":"#8a8a8a","strokeWidth":1.5},
 "encoding":{"x":{"datum":5592.49,"type":"quantitative"},"y":{"datum":0,"type":"quantitative"},"y2":{"datum":435}}},
{"data":{"name":"peaks"},"transform":[{"filter":"datum.p==1"}],"mark":{"type":"rule","color":"#111111","strokeWidth":2,"strokeDash":[2,4]},
 "encoding":{"x":{"field":"e","type":"quantitative"},"y":{"field":"dt","type":"quantitative"},"y2":{"datum":0}}},
{"data":{"name":"peaks"},"transform":[{"filter":"datum.p==1"}],"mark":{"type":"text","font":"Liberation Serif","fontSize":20,"color":"#222222","align":"center","baseline":"middle"},
 "encoding":{"x":{"field":"e","type":"quantitative"},"y":{"field":"ly","type":"quantitative"},"text":{"field":"t","type":"nominal"}}},
{"data":{"name":"ann"},"transform":[{"filter":"datum.p==1 && datum.k=='ep'"}],"mark":{"type":"text","font":"Liberation Sans","fontSize":24,"fontWeight":"bold","color":"#111111","align":"left","baseline":"middle"},
 "encoding":{"x":{"field":"e","type":"quantitative"},"y":{"field":"y","type":"quantitative"},"text":{"field":"t","type":"nominal"}}},
{"data":{"name":"ann"},"transform":[{"filter":"datum.p==1 && datum.k=='sub'"}],"mark":{"type":"text","font":"Liberation Sans","fontSize":20,"fontWeight":"bold","color":"#111111","align":"left","baseline":"middle","dy":9},
 "encoding":{"x":{"field":"e","type":"quantitative"},"y":{"field":"y","type":"quantitative"},"text":{"field":"t","type":"nominal"}}},
{"data":{"name":"ann"},"transform":[{"filter":"datum.p==1 && datum.k=='sh'"}],"mark":{"type":"text","font":"Liberation Sans","fontSize":45,"fontWeight":"bold","color":"#ea1fe6","align":"center","baseline":"middle"},
 "encoding":{"x":{"field":"e","type":"quantitative"},"y":{"field":"y","type":"quantitative"},"text":{"field":"t","type":"nominal"}}}
]
},
{
"width":1135,"height":210,
"layer":[
{"data":{"name":"spec"},"mark":{"type":"line","interpolate":"step","color":"#111111","strokeWidth":2},
 "encoding":{
  "x":{"field":"e","type":"quantitative","scale":{"domain":[5580.71,5796.28],"nice":false,"zero":false},"axis":null},
  "y":{"field":"b2","type":"quantitative","scale":{"domain":[-50.4,705],"nice":false,"zero":false},
   "axis":{"orient":"left","offset":-62,"values":[0,250,500],"domain":false,"ticks":true,"tickSize":3,"tickColor":"#888888","tickWidth":1.5,"labelFont":"Liberation Sans","labelFontStyle":"italic","labelFontWeight":"bold","labelFontSize":18,"labelColor":"#222222","labelPadding":3,"title":null}}}},
{"data":{"name":"comp"},"transform":[{"filter":"datum.p==2"}],"mark":{"type":"line","interpolate":"monotone","color":"#22dd22","strokeWidth":2.5},
 "encoding":{"x":{"field":"e","type":"quantitative"},"y":{"field":"g","type":"quantitative"},"detail":{"field":"k","type":"nominal"}}},
{"data":{"name":"spec"},"mark":{"type":"line","interpolate":"monotone","color":"#e8211d","strokeWidth":3},
 "encoding":{"x":{"field":"e","type":"quantitative"},"y":{"field":"r2","type":"quantitative"}}},
{"data":{"values":[{}]},"mark":{"type":"rule","color":"#1c1cd8","strokeWidth":3.5},
 "encoding":{"x":{"datum":5592.7,"type":"quantitative"},"x2":{"datum":5787.5},"y":{"datum":0,"type":"quantitative"}}},
{"data":{"values":[{}]},"mark":{"type":"rule","color":"#8a8a8a","strokeWidth":1.5},
 "encoding":{"x":{"datum":5592.49,"type":"quantitative"},"y":{"datum":0,"type":"quantitative"},"y2":{"datum":532}}},
{"data":{"name":"peaks"},"transform":[{"filter":"datum.p==2"}],"mark":{"type":"rule","color":"#111111","strokeWidth":2,"strokeDash":[2,4]},
 "encoding":{"x":{"field":"e","type":"quantitative"},"y":{"field":"dt","type":"quantitative"},"y2":{"datum":0}}},
{"data":{"name":"peaks"},"transform":[{"filter":"datum.p==2"}],"mark":{"type":"text","font":"Liberation Serif","fontSize":20,"color":"#222222","align":"center","baseline":"middle"},
 "encoding":{"x":{"field":"e","type":"quantitative"},"y":{"field":"ly","type":"quantitative"},"text":{"field":"t","type":"nominal"}}},
{"data":{"name":"ann"},"transform":[{"filter":"datum.p==2 && datum.k=='ep'"}],"mark":{"type":"text","font":"Liberation Sans","fontSize":24,"fontWeight":"bold","color":"#111111","align":"left","baseline":"middle"},
 "encoding":{"x":{"field":"e","type":"quantitative"},"y":{"field":"y","type":"quantitative"},"text":{"field":"t","type":"nominal"}}},
{"data":{"name":"ann"},"transform":[{"filter":"datum.p==2 && datum.k=='sub'"}],"mark":{"type":"text","font":"Liberation Sans","fontSize":20,"fontWeight":"bold","color":"#111111","align":"left","baseline":"middle","dy":9},
 "encoding":{"x":{"field":"e","type":"quantitative"},"y":{"field":"y","type":"quantitative"},"text":{"field":"t","type":"nominal"}}},
{"data":{"name":"ann"},"transform":[{"filter":"datum.p==2 && datum.k=='sh'"}],"mark":{"type":"text","font":"Liberation Sans","fontSize":45,"fontWeight":"bold","color":"#c96b3b","align":"center","baseline":"middle"},
 "encoding":{"x":{"field":"e","type":"quantitative"},"y":{"field":"y","type":"quantitative"},"text":{"field":"t","type":"nominal"}}},
{"data":{"name":"harr"},"mark":{"type":"rule","color":"#111111","strokeWidth":3.5},
 "encoding":{"x":{"field":"e1","type":"quantitative"},"x2":{"field":"e2"},"y":{"field":"y","type":"quantitative"}}},
{"data":{"name":"harr"},"mark":{"type":"point","filled":true,"color":"#111111","opacity":1,"size":250},
 "encoding":{"x":{"field":"e2","type":"quantitative"},"y":{"field":"y","type":"quantitative"},
  "shape":{"field":"d","type":"nominal","scale":{"domain":["r","l"],"range":["triangle-right","triangle-left"]},"legend":null}}}
]
},
{
"width":1135,"height":205,
"layer":[
{"data":{"name":"spec"},"mark":{"type":"line","interpolate":"step","color":"#111111","strokeWidth":2},
 "encoding":{
  "x":{"field":"e","type":"quantitative","scale":{"domain":[5580.71,5796.28],"nice":false,"zero":false},"axis":null},
  "y":{"field":"b3","type":"quantitative","scale":{"domain":[-8.1,142.6],"nice":false,"zero":false},
   "axis":{"orient":"left","offset":-62,"values":[0,50,100],"domain":false,"ticks":true,"tickSize":3,"tickColor":"#888888","tickWidth":1.5,"labelFont":"Liberation Sans","labelFontStyle":"italic","labelFontWeight":"bold","labelFontSize":18,"labelColor":"#222222","labelPadding":3,"title":null}}}},
{"data":{"values":[{}]},"mark":{"type":"rule","color":"#8a8a8a","strokeWidth":1.5},
 "encoding":{"x":{"datum":5592.49,"type":"quantitative"},"x2":{"datum":5787.5},"y":{"datum":0,"type":"quantitative"}}},
{"data":{"name":"comp"},"transform":[{"filter":"datum.p==3"}],"mark":{"type":"line","interpolate":"monotone","color":"#22dd22","strokeWidth":2.5},
 "encoding":{"x":{"field":"e","type":"quantitative"},"y":{"field":"g","type":"quantitative"},"detail":{"field":"k","type":"nominal"}}},
{"data":{"name":"spec"},"mark":{"type":"line","interpolate":"monotone","color":"#e8211d","strokeWidth":3},
 "encoding":{"x":{"field":"e","type":"quantitative"},"y":{"field":"r3","type":"quantitative"}}},
{"data":{"values":[{}]},"mark":{"type":"rule","color":"#1c1cd8","strokeWidth":3.5},
 "encoding":{"x":{"datum":5592.7,"type":"quantitative"},"x2":{"datum":5787.5},"y":{"datum":6,"type":"quantitative"}}},
{"data":{"values":[{}]},"mark":{"type":"rule","color":"#8a8a8a","strokeWidth":1.5},
 "encoding":{"x":{"datum":5592.49,"type":"quantitative"},"y":{"datum":-5,"type":"quantitative"},"y2":{"datum":110}}},
{"data":{"name":"peaks"},"transform":[{"filter":"datum.p==3"}],"mark":{"type":"rule","color":"#111111","strokeWidth":2,"strokeDash":[2,4]},
 "encoding":{"x":{"field":"e","type":"quantitative"},"y":{"field":"dt","type":"quantitative"},"y2":{"datum":-6}}},
{"data":{"name":"peaks"},"transform":[{"filter":"datum.p==3"}],"mark":{"type":"text","font":"Liberation Serif","fontSize":20,"color":"#222222","align":"center","baseline":"middle"},
 "encoding":{"x":{"field":"e","type":"quantitative"},"y":{"field":"ly","type":"quantitative"},"text":{"field":"t","type":"nominal"}}},
{"data":{"name":"ann"},"transform":[{"filter":"datum.p==3 && datum.k=='ep'"}],"mark":{"type":"text","font":"Liberation Sans","fontSize":24,"fontWeight":"bold","color":"#111111","align":"left","baseline":"middle"},
 "encoding":{"x":{"field":"e","type":"quantitative"},"y":{"field":"y","type":"quantitative"},"text":{"field":"t","type":"nominal"}}},
{"data":{"name":"ann"},"transform":[{"filter":"datum.p==3 && datum.k=='sub'"}],"mark":{"type":"text","font":"Liberation Sans","fontSize":20,"fontWeight":"bold","color":"#111111","align":"left","baseline":"middle","dy":9},
 "encoding":{"x":{"field":"e","type":"quantitative"},"y":{"field":"y","type":"quantitative"},"text":{"field":"t","type":"nominal"}}},
{"data":{"name":"ann"},"transform":[{"filter":"datum.p==3 && datum.k=='sh'"}],"mark":{"type":"text","font":"Liberation Sans","fontSize":45,"fontWeight":"bold","color":"#ec3035","align":"center","baseline":"middle"},
 "encoding":{"x":{"field":"e","type":"quantitative"},"y":{"field":"y","type":"quantitative"},"text":{"field":"t","type":"nominal"}}}
]
},
{
"width":1135,"height":195,
"layer":[
{"data":{"name":"levels"},"mark":{"type":"rule","strokeWidth":3},
 "encoding":{
  "x":{"field":"xt","type":"quantitative","scale":{"domain":[5580.48,5788.35],"nice":false,"zero":false},
   "axis":{"orient":"bottom","values":[5600,5650,5700,5750],"format":"d","domainColor":"#7a7a7a","domainWidth":3,"tickColor":"#555555","tickSize":4,"tickWidth":1.5,"labelAlign":"left","labelOffset":2,"labelPadding":4,"labelFont":"Liberation Sans","labelFontStyle":"italic","labelFontWeight":"bold","labelFontSize":18,"labelColor":"#333333","title":null}},
  "x2":{"field":"xb"},
  "y":{"datum":7.4,"type":"quantitative","scale":{"domain":[0,10],"nice":false,"zero":false},"axis":null},
  "y2":{"datum":2.95},
  "color":{"field":"c","type":"nominal","scale":{"domain":["m","c","r","k","b","v"],"range":["#ee22ee","#22e3e3","#ee2020","#111111","#2030cc","#5020a8"]},"legend":null}}},
{"data":{"name":"levels"},"mark":{"type":"text","font":"Liberation Sans, DejaVu Sans","fontSize":21,"fontWeight":"bold","align":"center","baseline":"middle"},
 "encoding":{"x":{"field":"lx","type":"quantitative"},"y":{"datum":8.72,"type":"quantitative"},"text":{"field":"lab","type":"nominal"},"color":{"field":"c","type":"nominal","legend":null}}},
{"data":{"name":"larrows"},"mark":{"type":"rule","color":"#555555","strokeWidth":1.5},
 "encoding":{"x":{"field":"x1","type":"quantitative"},"x2":{"field":"x2"},"y":{"field":"ay","type":"quantitative"}}},
{"data":{"name":"larrows"},"mark":{"type":"point","filled":true,"color":"#111111","opacity":1,"size":50},
 "encoding":{"x":{"field":"x2","type":"quantitative"},"y":{"field":"ay","type":"quantitative"},
  "shape":{"field":"d","type":"nominal","scale":{"domain":["r","l"],"range":["triangle-right","triangle-left"]},"legend":null}}},
{"data":{"name":"ev"},"mark":{"type":"text","font":"Liberation Sans","fontSize":25,"fontWeight":"bold","fontStyle":"italic","color":"#111111","align":"center","baseline":"middle"},
 "encoding":{"x":{"field":"x","type":"quantitative"},"y":{"datum":1.64,"type":"quantitative"},"text":{"field":"t","type":"nominal"}}},
{"data":{"name":"xtitle"},"transform":[{"filter":"datum.k=='n'"}],"mark":{"type":"text","font":"Liberation Sans","fontSize":19,"fontWeight":"bold","fontStyle":"italic","color":"#333333","align":"left","baseline":"middle"},
 "encoding":{"x":{"field":"x","type":"quantitative"},"y":{"datum":-0.87,"type":"quantitative"},"text":{"field":"t","type":"nominal"}}},
{"data":{"name":"xtitle"},"transform":[{"filter":"datum.k=='s'"}],"mark":{"type":"text","font":"Liberation Sans","fontSize":17,"fontWeight":"bold","fontStyle":"normal","color":"#333333","align":"left","baseline":"middle","dy":6},
 "encoding":{"x":{"field":"x","type":"quantitative"},"y":{"datum":-0.87,"type":"quantitative"},"text":{"field":"t","type":"nominal"}}}
]
}
]
}
